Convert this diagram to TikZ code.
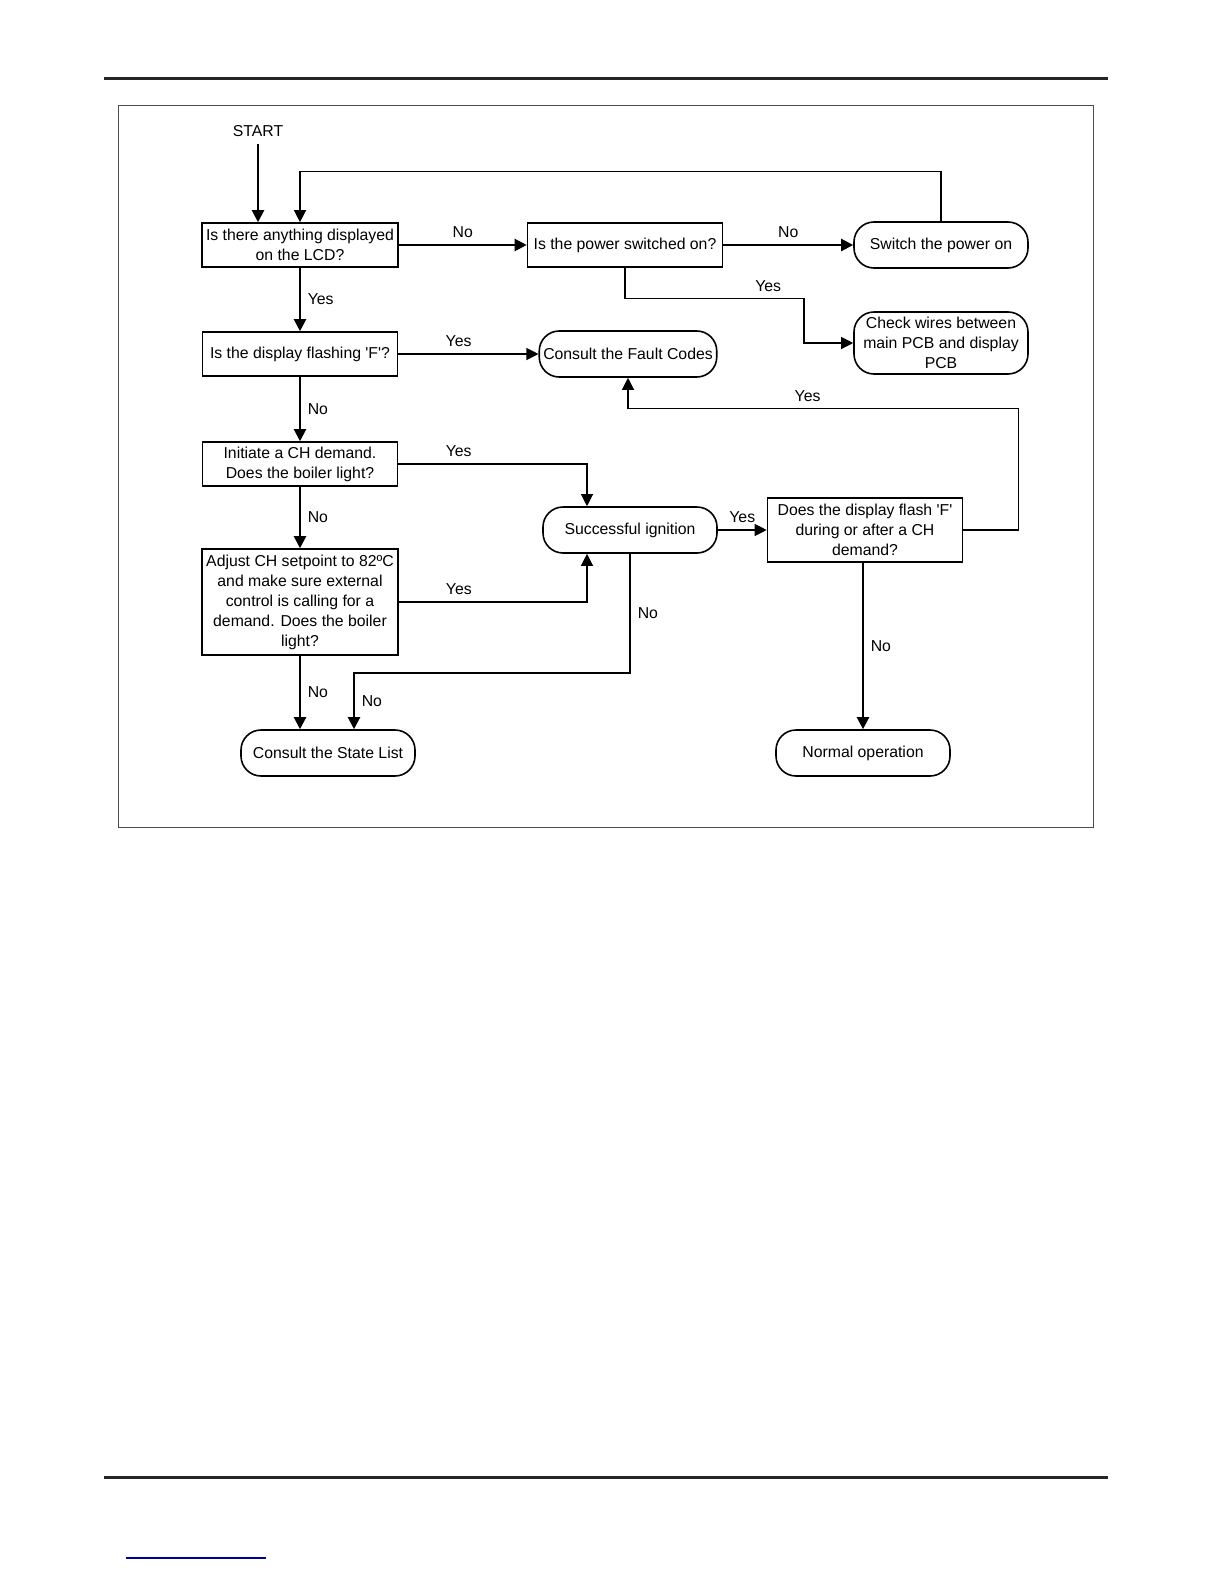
\documentclass[tikz,border=0pt]{standalone}
\usepackage{fontspec}
\setmainfont{Liberation Sans}
\usetikzlibrary{arrows.meta}

\begin{document}
\begin{tikzpicture}[
            x=0.5pt, y=-0.5pt,
            every node/.style={font=\fontsize{7.9}{10}\selectfont},
            question/.style={draw, line width=0.8pt, rectangle, align=center, minimum width=97.5pt, minimum height=22pt, inner sep=2pt},
            terminal/.style={draw, line width=0.8pt, rectangle, rounded corners=10pt, align=center, minimum width=87pt, minimum height=23pt, inner sep=2pt},
            arr/.style={line width=1.1pt, -{Triangle[length=6pt,width=6pt]}},
            thinarr/.style={line width=0.6pt, -{Triangle[length=6pt,width=6pt]}}
        ]

        \useasboundingbox (0,0) rectangle (1224,1584);

        % page rules and frame
        \draw[line width=1.5pt, black!85] (104,79) -- (1108,79);
        \draw[line width=1.5pt, black!85] (104,1477) -- (1108,1477);
        \draw[line width=0.6pt, blue!60!black] (126,1558) -- (266,1558);
        \draw[line width=0.5pt, black!70] (118,106) rectangle (1093,827);

        % boxes
        \node (start) at (258,131) {START};
        \node[question] (lcd) at (300,245) {Is there anything displayed\\on the LCD?};
        \node[question] (power) at (625,245) {Is the power switched on?};
        \node[terminal] (switchon) at (941,245) {Switch the power on};
        \node[terminal, minimum height=31pt] (wires) at (941,343) {Check wires between\\main PCB and display\\PCB};
        \node[question] (flashing) at (300,354) {Is the display flashing \textquotesingle F\textquotesingle?};
        \node[terminal] (faultcodes) at (628,354) {Consult the Fault Codes};
        \node[question] (chdemand) at (300,464) {Initiate a CH demand.\\Does the boiler light?};
        \node[question, minimum height=53pt] (setpoint) at (300,602) {Adjust CH setpoint to 82ºC\\and make sure external\\control is calling for a\\demand. Does the boiler\\light?};
        \node[terminal] (ignition) at (630,530) {Successful ignition};
        \node[question, minimum height=32pt] (flashdemand) at (865,530) {Does the display flash \textquotesingle F\textquotesingle\\during or after a CH\\demand?};
        \node[terminal] (statelist) at (328,753) {Consult the State List};
        \node[terminal] (normal) at (863,753) {Normal operation};

        % connectors
        \draw[arr] (start) -- (start |- lcd.north);
        \draw[thinarr] (switchon.north) -- ++(0,-50) -| (lcd.north);
        \draw[arr] (lcd) -- node[above] {No} (power);
        \draw[arr] (power) -- node[above] {No} (switchon);
        \draw[thinarr] (power.south) -- ++(0,31) -- node[above, pos=0.8] {Yes} ++(179,0) |- (wires.west);
        \draw[arr] (lcd) -- node[right] {Yes} (flashing);
        \draw[thinarr] (flashing) -- node[above, pos=0.43] {Yes} (faultcodes);
        \draw[arr] (flashing) -- node[right] {No} (chdemand);
        \draw[thinarr] (chdemand.east) -| node[above, pos=0.16] {Yes} ([xshift=-21.5pt]ignition.north);
        \draw[arr] (chdemand) -- node[right] {No} (setpoint);
        \draw[thinarr] (setpoint.east) -| node[above, pos=0.16] {Yes} ([xshift=-21.5pt]ignition.south);
        \draw[thinarr] (ignition) -- node[above] {Yes} (flashdemand);
        \draw[thinarr] (flashdemand.east) -- ++(55,0) |- node[above, pos=0.77] {Yes} ([yshift=-15.5pt]faultcodes.south) -- (faultcodes.south);
        \draw[arr] (normal |- flashdemand.south) -- node[right] {No} (normal);
        \draw[arr] (ignition.south) -- node[right] {No} ++(0,119) -| node[right, pos=0.75] {No} ([xshift=13pt]statelist.north);
        \draw[arr] (setpoint) -- node[right] {No} (setpoint |- statelist.north);

        \end{tikzpicture}
\end{document}
